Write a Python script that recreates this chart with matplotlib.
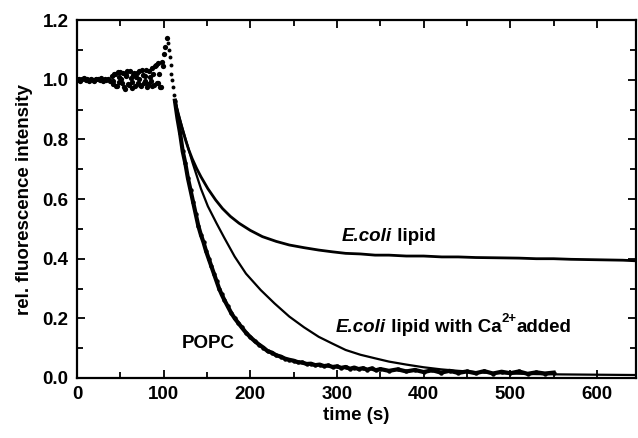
import matplotlib
matplotlib.use('Agg')
import matplotlib.pyplot as plt
from matplotlib.ticker import MultipleLocator

plt.rcParams['font.family'] = ['Liberation Sans', 'DejaVu Sans']
plt.rcParams['font.weight'] = 'bold'
plt.rcParams['axes.labelweight'] = 'bold'

# Baseline before the drop (shared by all three runs)
pre_t = [0, 2, 4, 6, 8, 10, 12, 14, 16, 18, 20, 22, 24, 26, 28, 30, 32, 34, 36, 38,
         40, 42, 44, 46, 48, 50, 52, 54, 56, 58, 60, 62, 64, 66, 68, 70, 72, 74, 76, 78,
         80, 82, 84, 86, 88, 90, 92, 94, 96, 98, 100, 102, 104]
pre_v = [1.000, 1.004, 0.997, 1.002, 1.006, 0.998, 1.001, 0.995, 1.003, 1.000,
         0.996, 1.004, 1.001, 0.998, 1.005, 0.997, 1.002, 0.999, 1.003, 0.996,
         1.012, 0.985, 1.020, 0.978, 1.008, 1.025, 0.990, 0.975, 1.015, 1.030,
         0.982, 1.005, 0.972, 1.022, 1.010, 0.988, 1.028, 0.980, 1.015, 0.995,
         1.032, 0.985, 1.010, 0.978, 1.020, 1.045, 0.990, 1.055, 0.975, 1.060,
         1.085, 1.110, 1.139]
pre2_t = [41, 43, 45, 47, 49, 51, 53, 55, 57, 59, 61, 63, 65, 67, 69,
          71, 73, 75, 77, 79, 81, 83, 85, 87, 89, 91, 93, 95, 97, 99]
pre2_v = [0.995, 1.018, 0.980, 1.026, 0.992, 1.004, 1.022, 0.970, 1.012, 0.986,
          1.030, 0.994, 1.016, 0.978, 1.024, 1.002, 0.984, 1.034, 0.990, 1.012,
          0.976, 1.028, 0.996, 1.040, 0.982, 1.050, 0.988, 1.020, 0.975, 1.045]
peak_t = [105, 106, 107, 108, 109, 110, 111, 112]
peak_v = [1.125, 1.100, 1.075, 1.050, 1.020, 1.000, 0.975, 0.950]

# POPC
popc_t = [113, 116, 119, 122, 125, 128, 131, 134, 137, 140,
          143, 146, 149, 152, 155, 158, 161, 164, 167, 170,
          174, 178, 182, 186, 190, 195, 200, 205, 210, 215,
          220, 225, 230, 235, 240, 245, 250, 255, 260, 265,
          270, 275, 280, 285, 290, 295, 300, 305, 310, 315,
          320, 325, 330, 335, 340, 345, 350, 360, 370, 380,
          390, 400, 410, 420, 430, 440, 450, 460, 470, 480,
          490, 500, 510, 520, 530, 540, 550]
popc_v = [0.930, 0.870, 0.820, 0.760, 0.720, 0.670, 0.630, 0.590, 0.550, 0.510,
          0.480, 0.455, 0.425, 0.400, 0.375, 0.350, 0.325, 0.300, 0.280, 0.262,
          0.240, 0.218, 0.200, 0.185, 0.170, 0.152, 0.137, 0.124, 0.112, 0.102,
          0.090, 0.085, 0.076, 0.072, 0.065, 0.061, 0.058, 0.053, 0.052, 0.047,
          0.048, 0.043, 0.045, 0.040, 0.042, 0.037, 0.039, 0.034, 0.037, 0.031,
          0.035, 0.030, 0.033, 0.028, 0.032, 0.026, 0.030, 0.024, 0.029, 0.022,
          0.027, 0.020, 0.026, 0.018, 0.024, 0.017, 0.022, 0.016, 0.023, 0.015,
          0.021, 0.016, 0.022, 0.014, 0.019, 0.015, 0.018]

# E. coli lipid
ecoli_t = [113, 117, 121, 125, 129, 133, 138, 143, 151, 160,
           168, 177, 187, 200, 214, 230, 245, 262, 279, 295,
           310, 327, 344, 360, 380, 400, 421, 440, 460, 486,
           510, 530, 550, 570, 590, 610, 630, 645]
ecoli_v = [0.930, 0.885, 0.840, 0.800, 0.765, 0.735, 0.703, 0.675, 0.635, 0.597,
           0.568, 0.542, 0.519, 0.495, 0.474, 0.458, 0.446, 0.437, 0.429, 0.423,
           0.418, 0.416, 0.412, 0.412, 0.409, 0.409, 0.406, 0.406, 0.404, 0.403,
           0.402, 0.400, 0.400, 0.398, 0.397, 0.396, 0.395, 0.393]

# E. coli lipid with Ca2+
ca_t = [113, 117, 121, 125, 129, 133, 138, 143, 151, 161,
        170, 182, 195, 212, 228, 245, 262, 279, 295, 310,
        327, 344, 360, 380, 400, 420, 440, 460, 480, 500,
        530, 560, 600, 645]
ca_v = [0.930, 0.885, 0.845, 0.805, 0.765, 0.725, 0.680, 0.635, 0.576, 0.519,
        0.470, 0.407, 0.350, 0.295, 0.250, 0.206, 0.170, 0.138, 0.115, 0.094,
        0.078, 0.066, 0.055, 0.045, 0.036, 0.029, 0.024, 0.020, 0.017, 0.015,
        0.013, 0.012, 0.011, 0.010]

fs = 13.5

fig = plt.figure(figsize=(6.38, 4.38), dpi=100)
ax = fig.add_axes([0.1207, 0.137, 0.876, 0.817])

# Dots before the drop
ax.plot(pre_t[:20], pre_v[:20], '-', color='black', linewidth=2.4)
ax.plot(pre_t, pre_v, 'o', color='black', markersize=3.8, markeredgewidth=0)
ax.plot(pre2_t, pre2_v, 'o', color='black', markersize=3.8, markeredgewidth=0)
ax.plot(peak_t, peak_v, 'o', color='black', markersize=2.8, markeredgewidth=0)

# Decay traces
ax.plot(popc_t, popc_v, '-', color='black', linewidth=3.0)
ax.plot(popc_t, popc_v, 'o', color='black', markersize=3.2, markeredgewidth=0)
ax.plot(ecoli_t, ecoli_v, '-', color='black', linewidth=2.0)
ax.plot(ca_t, ca_v, '-', color='black', linewidth=1.6)

ax.set_xlim(0, 645)
ax.set_ylim(0, 1.2)
ax.xaxis.set_major_locator(MultipleLocator(100))
ax.xaxis.set_minor_locator(MultipleLocator(50))
ax.yaxis.set_major_locator(MultipleLocator(0.2))
ax.yaxis.set_minor_locator(MultipleLocator(0.1))
ax.yaxis.set_major_formatter(plt.FormatStrFormatter('%.1f'))
ax.tick_params(which='both', direction='in', top=True, right=True,
               labelsize=fs, width=1.3)
ax.tick_params(which='major', length=6, pad=6)
ax.tick_params(which='minor', length=4)
for s in ax.spines.values():
    s.set_linewidth(1.6)

ax.set_xlabel('time (s)', fontsize=fs, labelpad=3)
ax.set_ylabel('rel. fluorescence intensity', fontsize=fs, labelpad=7)

# Curve labels, built piece by piece so the italics and superscript sit right
t1 = ax.text(306, 0.473, 'E.coli', fontsize=fs, style='italic', va='center', ha='left')
ax.annotate(' lipid', xy=(1, 0), xycoords=t1, fontsize=fs, va='bottom', ha='left')

t2 = ax.text(299, 0.171, 'E.coli', fontsize=fs, style='italic', va='center', ha='left')
t3 = ax.annotate(' lipid with Ca', xy=(1, 0), xycoords=t2, fontsize=fs,
                 va='bottom', ha='left')
t4 = ax.annotate('2+', xy=(1, 0.62), xycoords=t3, fontsize=fs * 0.7,
                 va='bottom', ha='left')
ax.annotate('added', xy=(1, 0), xycoords=(t4, t3), fontsize=fs,
            va='bottom', ha='left')

ax.text(152, 0.117, 'POPC', fontsize=fs, va='center', ha='center')

plt.savefig('out.png', dpi=100)
